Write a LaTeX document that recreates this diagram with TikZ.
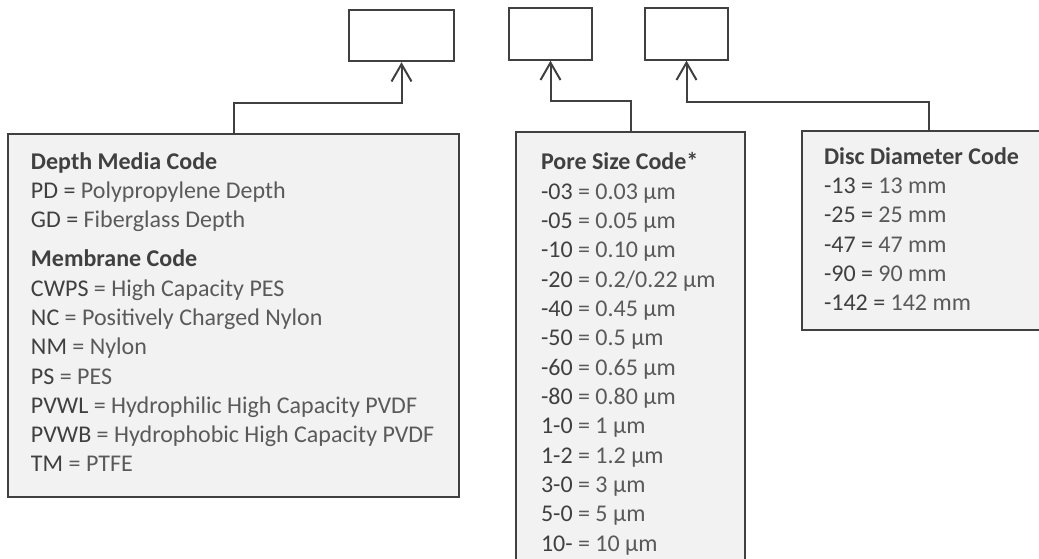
\documentclass[tikz,border=0pt]{standalone}
\usepackage{fontspec}
\setmainfont{Carlito}
\usetikzlibrary{arrows.meta}
\definecolor{linegray}{HTML}{404040}
\definecolor{descgray}{HTML}{5A5A5A}
\definecolor{boxfill}{HTML}{F2F2F2}
\newcommand{\cd}[1]{{\color{linegray}#1}}
\tikzset{
  slot/.style={draw=linegray, fill=white, minimum height=38.5pt},
  codebox/.style={draw=linegray, fill=boxfill},
  codetext/.style={anchor=base west, align=left, inner sep=0pt, text=descgray,
    font=\fontsize{18}{22}\selectfont},
  link/.style={-{Straight Barb[length=13pt,width=15pt]}}
}
\begin{document}
\begin{tikzpicture}[x=0.75pt,y=-0.75pt,line width=1.5pt,color=linegray]
\useasboundingbox (0,0) rectangle (1039,559);
\clip (0,0) rectangle (1039,559);
% empty slots of the part number
\node[slot, minimum width=78.75pt] (slotA) at (401.5,35.5) {};
\node[slot, minimum width=62.25pt] (slotB) at (550.5,34) {};
\node[slot, minimum width=62.25pt] (slotC) at (686.5,34) {};
% code tables
\node[codebox, minimum width=338.25pt, minimum height=272.25pt] (depth) at (233.5,315.5) {};
\node[codebox, minimum width=171.75pt, minimum height=351pt] (pore) at (630.5,366) {};
\node[codebox, minimum width=190.5pt, minimum height=149.25pt] (disc) at (929,230.5) {};
\draw[link] (depth.north) -- ++(0,-30) -| (slotA.south);
\draw[link] (pore.north) -- ++(0,-30) -| (slotB.south);
\draw[link] (disc.north) -- ++(0,-28) -| (slotC.south);
% base anchor sits on the last line
\node[codetext] (depthtext) at (30,472) {%
  \textcolor{linegray}{\textbf{Depth Media Code}}\\
  \cd{PD =} Polypropylene Depth\\
  \cd{GD =} Fiberglass Depth\\[7.2pt]
  \textcolor{linegray}{\textbf{Membrane Code}}\\
  \cd{CWPS} = High Capacity PES\\
  \cd{NC} = Positively Charged Nylon\\
  \cd{NM} = Nylon\\
  \cd{PS} = PES\\
  \cd{PVWL} = Hydrophilic High Capacity PVDF\\
  \cd{PVWB} = Hydrophobic High Capacity PVDF\\
  \cd{TM} = PTFE};
\node[codetext] (poretext) at (540,551) {%
  \textcolor{linegray}{\textbf{Pore Size Code*}}\\
  \cd{-03} = 0.03 µm\\
  \cd{-05} = 0.05 µm\\
  \cd{-10} = 0.10 µm\\
  \cd{-20} = 0.2/0.22 µm\\
  \cd{-40} = 0.45 µm\\
  \cd{-50} = 0.5 µm\\
  \cd{-60} = 0.65 µm\\
  \cd{-80} = 0.80 µm\\
  \cd{1-0} = 1 µm\\
  \cd{1-2} = 1.2 µm\\
  \cd{3-0} = 3 µm\\
  \cd{5-0} = 5 µm\\
  \cd{10-} = 10 µm};
\node[codetext] (disctext) at (823,311) {%
  \textcolor{linegray}{\textbf{Disc Diameter Code}}\\
  \cd{-13 =} 13 mm\\
  \cd{-25 =} 25 mm\\
  \cd{-47 =} 47 mm\\
  \cd{-90 =} 90 mm\\
  \cd{-142 =} 142 mm};
\end{tikzpicture}
\end{document}
